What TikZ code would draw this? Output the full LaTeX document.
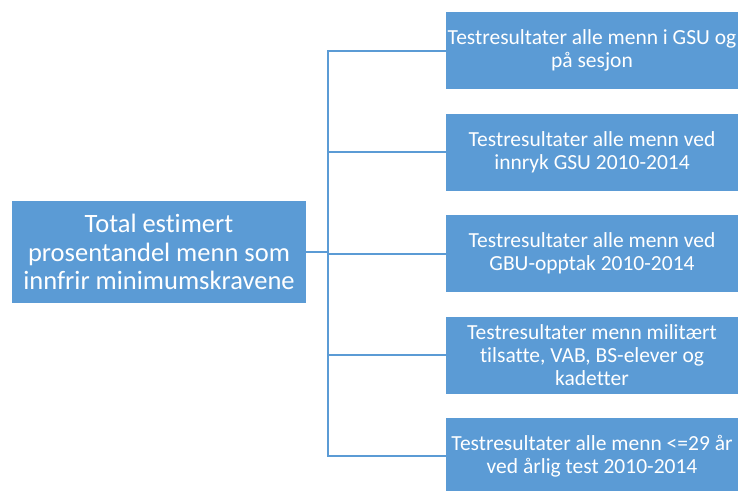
\documentclass[tikz,border=0pt]{standalone}
\usepackage{fontspec}
\setmainfont{Carlito}[Ligatures=NoCommon]
\usetikzlibrary{positioning}

\definecolor{boxblue}{HTML}{5B9BD5}

\begin{document}
\begin{tikzpicture}[x=1pt, y=-1pt,
    rootbox/.style={rectangle, fill=boxblue, text=white, minimum width=294pt, minimum height=102pt, align=center, inner sep=0pt, font=\fontsize{26.5}{28.5}\selectfont},
    leafbox/.style={rectangle, fill=boxblue, text=white, minimum width=292pt, minimum height=77pt, align=center, inner sep=0pt, font=\fontsize{21.5}{23.3}\selectfont},
    link/.style={draw=boxblue, line width=2pt}]
\useasboundingbox (0,0) rectangle (738,490);

% Root
\node[rootbox] (total) at (159,252) {Total estimert\\prosentandel menn som\\innfrir minimumskravene};

% Leaves
\node[leafbox] (gsu) at (592,50.5) {Testresultater alle menn i GSU og\\på sesjon};
\node[leafbox] (innryk) at (592,152) {Testresultater alle menn ved\\innryk GSU 2010-2014};
\node[leafbox] (gbu) at (592,253.5) {Testresultater alle menn ved\\GBU-opptak 2010-2014};
\node[leafbox] (mil) at (592,355) {Testresultater menn militært\\tilsatte, VAB, BS-elever og\\kadetter};
\node[leafbox] (arlig) at (592,456) {Testresultater alle menn <=29 år\\ved årlig test 2010-2014};

% Connectors
\coordinate (trunk) at (328,252);
\draw[link] (total.east) -- (trunk);
\draw[link] (trunk) |- (gsu.west);
\draw[link] (trunk) |- (innryk.west);
\draw[link] (trunk) |- (gbu.west);
\draw[link] (trunk) |- (mil.west);
\draw[link] (trunk) |- (arlig.west);
\end{tikzpicture}
\end{document}
